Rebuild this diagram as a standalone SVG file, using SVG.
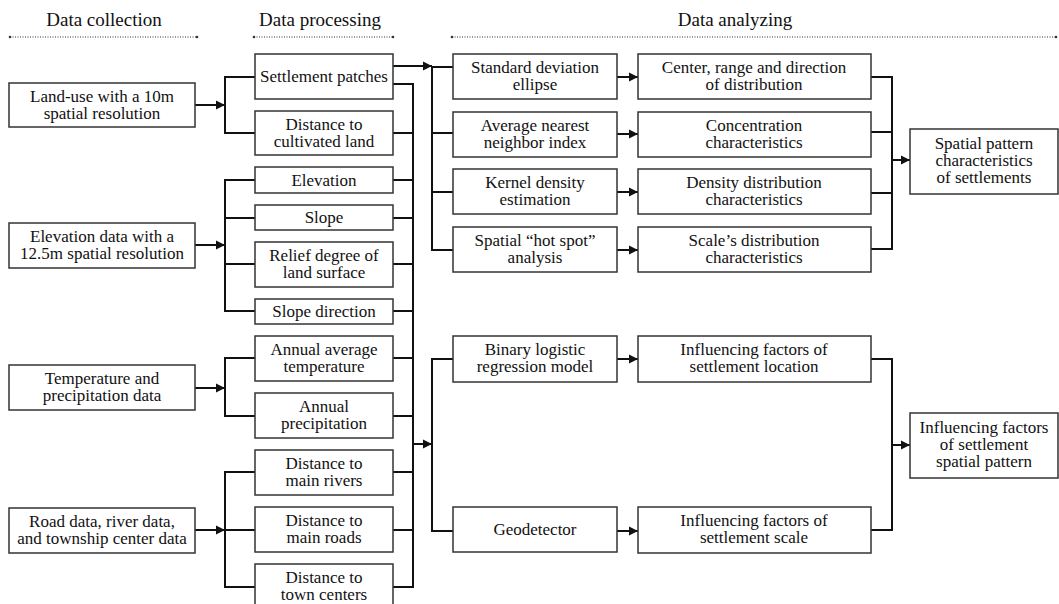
<svg xmlns="http://www.w3.org/2000/svg" width="1059" height="604" viewBox="0 0 1059 604">
<defs>
<marker id="ah" markerUnits="userSpaceOnUse" markerWidth="10" markerHeight="10" refX="9" refY="5" orient="auto">
<path d="M0,0.5 L9,5 L0,9.5 z" fill="#111"/>
</marker>
<style>
.box{fill:#fff;stroke:#333;stroke-width:1.5}
.t{font-family:"Liberation Serif","Times New Roman",serif;font-size:17px;fill:#111;text-anchor:middle}
.h{font-family:"Liberation Serif","Times New Roman",serif;font-size:19px;fill:#111;text-anchor:middle}
.c{fill:none;stroke:#111;stroke-width:2}
.a{fill:none;stroke:#111;stroke-width:2;marker-end:url(#ah)}
.dot{fill:none;stroke:#333;stroke-width:1.2;stroke-dasharray:1 1.5}
</style>
</defs>
<rect width="1059" height="604" fill="#fff"/>

<g id="headers">
<text class="h" x="104" y="26">Data collection</text>
<line class="dot" x1="10" y1="37" x2="197" y2="37"/><circle cx="10" cy="37" r="1.3" fill="#333"/><circle cx="197" cy="37" r="1.3" fill="#333"/>
<text class="h" x="320" y="26">Data processing</text>
<line class="dot" x1="254" y1="37" x2="393" y2="37"/><circle cx="254" cy="37" r="1.3" fill="#333"/><circle cx="393" cy="37" r="1.3" fill="#333"/>
<text class="h" x="735" y="26">Data analyzing</text>
<line class="dot" x1="452" y1="37" x2="1056" y2="37"/><circle cx="452" cy="37" r="1.3" fill="#333"/><circle cx="1056" cy="37" r="1.3" fill="#333"/>
</g>

<g id="connectors">
<line class="a" x1="195" y1="105" x2="225" y2="105"/>
<polyline class="c" points="255,77 225,77 225,133 255,133"/>
<line class="a" x1="195" y1="245" x2="225" y2="245"/>
<polyline class="c" points="255,180 225,180 225,311 255,311"/>
<line class="c" x1="225" y1="218" x2="255" y2="218"/>
<line class="c" x1="225" y1="264" x2="255" y2="264"/>
<line class="a" x1="195" y1="388" x2="225" y2="388"/>
<polyline class="c" points="255,358 225,358 225,416 255,416"/>
<line class="a" x1="195" y1="530" x2="225" y2="530"/>
<polyline class="c" points="255,472 225,472 225,587 255,587"/>
<line class="c" x1="225" y1="530" x2="255" y2="530"/>
<polyline class="c" points="393,84 413,84 413,587 393,587"/>
<line class="c" x1="393" y1="133" x2="413" y2="133"/>
<line class="c" x1="393" y1="180" x2="413" y2="180"/>
<line class="c" x1="393" y1="218" x2="413" y2="218"/>
<line class="c" x1="393" y1="264" x2="413" y2="264"/>
<line class="c" x1="393" y1="311" x2="413" y2="311"/>
<line class="c" x1="393" y1="358" x2="413" y2="358"/>
<line class="c" x1="393" y1="416" x2="413" y2="416"/>
<line class="c" x1="393" y1="472" x2="413" y2="472"/>
<line class="c" x1="393" y1="530" x2="413" y2="530"/>
<line class="a" x1="413" y1="444" x2="432" y2="444"/>
<line class="a" x1="393" y1="66" x2="432" y2="66"/>
<polyline class="c" points="453,67 432,67 432,250 453,250"/>
<line class="c" x1="432" y1="133" x2="453" y2="133"/>
<line class="c" x1="432" y1="192" x2="453" y2="192"/>
<polyline class="c" points="453,359 432,359 432,531 453,531"/>
<line class="a" x1="617" y1="77" x2="638" y2="77"/>
<line class="a" x1="617" y1="134" x2="638" y2="134"/>
<line class="a" x1="617" y1="192" x2="638" y2="192"/>
<line class="a" x1="617" y1="250" x2="638" y2="250"/>
<line class="a" x1="617" y1="359" x2="638" y2="359"/>
<line class="a" x1="617" y1="531" x2="638" y2="531"/>
<polyline class="c" points="871,77 892,77 892,249 871,249"/>
<line class="c" x1="871" y1="132" x2="892" y2="132"/>
<line class="c" x1="871" y1="193" x2="892" y2="193"/>
<line class="a" x1="892" y1="160" x2="910" y2="160"/>
<polyline class="c" points="871,359 892,359 892,530 871,530"/>
<line class="a" x1="892" y1="445" x2="910" y2="445"/>
</g>

<g id="n-landuse"><rect class="box" x="9" y="83" width="186" height="44"/><text class="t" x="102" y="102">Land-use with a 10m</text><text class="t" x="102" y="119">spatial resolution</text></g>
<g id="n-elevdata"><rect class="box" x="9" y="223" width="186" height="45"/><text class="t" x="102" y="242">Elevation data with a</text><text class="t" x="102" y="259">12.5m spatial resolution</text></g>
<g id="n-tempdata"><rect class="box" x="9" y="365" width="186" height="45"/><text class="t" x="102" y="384">Temperature and</text><text class="t" x="102" y="401">precipitation data</text></g>
<g id="n-roaddata"><rect class="box" x="9" y="508" width="186" height="45"/><text class="t" x="102" y="527">Road data, river data,</text><text class="t" x="102" y="544">and township center data</text></g>

<g id="n-settlement"><rect class="box" x="255" y="54" width="138" height="45"/><text class="t" x="324" y="82">Settlement patches</text></g>
<g id="n-cultivated"><rect class="box" x="255" y="111" width="138" height="44"/><text class="t" x="324" y="130">Distance to</text><text class="t" x="324" y="147">cultivated land</text></g>
<g id="n-elevation"><rect class="box" x="255" y="167" width="138" height="26"/><text class="t" x="324" y="186">Elevation</text></g>
<g id="n-slope"><rect class="box" x="255" y="205" width="138" height="25"/><text class="t" x="324" y="223">Slope</text></g>
<g id="n-relief"><rect class="box" x="255" y="242" width="138" height="45"/><text class="t" x="324" y="261">Relief degree of</text><text class="t" x="324" y="278">land surface</text></g>
<g id="n-slopedir"><rect class="box" x="255" y="299" width="138" height="25"/><text class="t" x="324" y="317">Slope direction</text></g>
<g id="n-temp"><rect class="box" x="255" y="336" width="138" height="45"/><text class="t" x="324" y="355">Annual average</text><text class="t" x="324" y="372">temperature</text></g>
<g id="n-precip"><rect class="box" x="255" y="393" width="138" height="45"/><text class="t" x="324" y="412">Annual</text><text class="t" x="324" y="429">precipitation</text></g>
<g id="n-rivers"><rect class="box" x="255" y="450" width="138" height="45"/><text class="t" x="324" y="469">Distance to</text><text class="t" x="324" y="486">main rivers</text></g>
<g id="n-roads"><rect class="box" x="255" y="507" width="138" height="45"/><text class="t" x="324" y="526">Distance to</text><text class="t" x="324" y="543">main roads</text></g>
<g id="n-towns"><rect class="box" x="255" y="564" width="138" height="45"/><text class="t" x="324" y="583">Distance to</text><text class="t" x="324" y="600">town centers</text></g>

<g id="n-sde"><rect class="box" x="453" y="54" width="164" height="45"/><text class="t" x="535" y="73">Standard deviation</text><text class="t" x="535" y="90">ellipse</text></g>
<g id="n-ann"><rect class="box" x="453" y="112" width="164" height="45"/><text class="t" x="535" y="131">Average nearest</text><text class="t" x="535" y="148">neighbor index</text></g>
<g id="n-kde"><rect class="box" x="453" y="169" width="164" height="45"/><text class="t" x="535" y="188">Kernel density</text><text class="t" x="535" y="205">estimation</text></g>
<g id="n-hotspot"><rect class="box" x="453" y="227" width="164" height="45"/><text class="t" x="535" y="246">Spatial “hot spot”</text><text class="t" x="535" y="263">analysis</text></g>
<g id="n-logistic"><rect class="box" x="453" y="336" width="164" height="46"/><text class="t" x="535" y="355">Binary logistic</text><text class="t" x="535" y="372">regression model</text></g>
<g id="n-geodetector"><rect class="box" x="453" y="507" width="164" height="45"/><text class="t" x="535" y="535">Geodetector</text></g>

<g id="n-center"><rect class="box" x="638" y="54" width="233" height="45"/><text class="t" x="754" y="73">Center, range and direction</text><text class="t" x="754" y="90">of distribution</text></g>
<g id="n-concentration"><rect class="box" x="638" y="112" width="233" height="45"/><text class="t" x="754" y="131">Concentration</text><text class="t" x="754" y="148">characteristics</text></g>
<g id="n-density"><rect class="box" x="638" y="169" width="233" height="45"/><text class="t" x="754" y="188">Density distribution</text><text class="t" x="754" y="205">characteristics</text></g>
<g id="n-scale"><rect class="box" x="638" y="227" width="233" height="45"/><text class="t" x="754" y="246">Scale’s distribution</text><text class="t" x="754" y="263">characteristics</text></g>
<g id="n-location"><rect class="box" x="638" y="336" width="233" height="46"/><text class="t" x="754" y="355">Influencing factors of</text><text class="t" x="754" y="372">settlement location</text></g>
<g id="n-scalefactors"><rect class="box" x="638" y="507" width="233" height="46"/><text class="t" x="754" y="526">Influencing factors of</text><text class="t" x="754" y="543">settlement scale</text></g>

<g id="n-pattern"><rect class="box" x="910" y="129" width="148" height="65"/><text class="t" x="984" y="149">Spatial pattern</text><text class="t" x="984" y="166">characteristics</text><text class="t" x="984" y="183">of settlements</text></g>
<g id="n-influence"><rect class="box" x="910" y="413" width="148" height="65"/><text class="t" x="984" y="433">Influencing factors</text><text class="t" x="984" y="450">of settlement</text><text class="t" x="984" y="467">spatial pattern</text></g>
</svg>
